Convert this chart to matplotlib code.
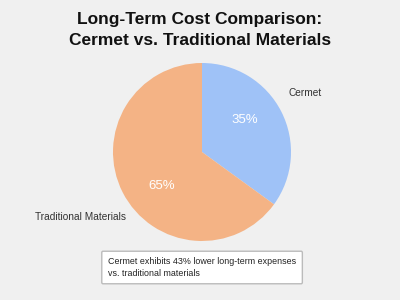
import matplotlib.pyplot as plt

labels = ["Cermet", "Traditional Materials"]
values = [35, 65]
colors = ["#9fc2f7", "#f4b385"]
title = "Long-Term Cost Comparison:\nCermet vs. Traditional Materials"
note = "Cermet exhibits 43% lower long-term expenses\nvs. traditional materials"

plt.rcParams['font.family'] = ['Liberation Sans', 'DejaVu Sans']
W, H = 400, 300
cx, cy, r = 202, 152, 89
fig = plt.figure(figsize=(4, 3), dpi=100, facecolor="#f0f0f0")
ax = fig.add_axes([(cx - r) / W, 1 - (cy + r) / H, 2 * r / W, 2 * r / H])
ax.set_facecolor("#f0f0f0")
wedges, texts, autotexts = ax.pie(
    values, labels=labels, colors=colors, startangle=90, counterclock=False,
    autopct="%d%%", pctdistance=0.6, labeldistance=1.15,
    textprops=dict(fontsize=7.3, color="#333333"),
    wedgeprops=dict(linewidth=0))
ax.set_xlim(-1, 1)
ax.set_ylim(-1, 1)
ax.set_aspect("equal")

label_pos = [(1.16, 0.66), (-1.37, -0.73)]
pct_pos = [(0.48, 0.36), (-0.45, -0.38)]
for t, p in zip(texts, label_pos):
    t.set_position(p)
    t.set_ha("center")
    t.set_va("center")
    t.set_clip_on(False)
for t, p in zip(autotexts, pct_pos):
    t.set_position(p)
    t.set_color("white")
    t.set_fontsize(9.5)

fig.text(0.5, 1 - 12 / H, title, ha="center", va="top", fontsize=12.5, fontweight="bold",
         color="#111111", linespacing=1.5)
fig.text(108 / W, 1 - 267.5 / H, note, ha="left", va="center", fontsize=6.4,
         color="#222222", linespacing=1.3,
         bbox=dict(boxstyle="round,pad=0.7,rounding_size=0.15", fc="white", ec="#bbbbbb", lw=1))
fig.savefig("out.png", dpi=100, facecolor=fig.get_facecolor())
